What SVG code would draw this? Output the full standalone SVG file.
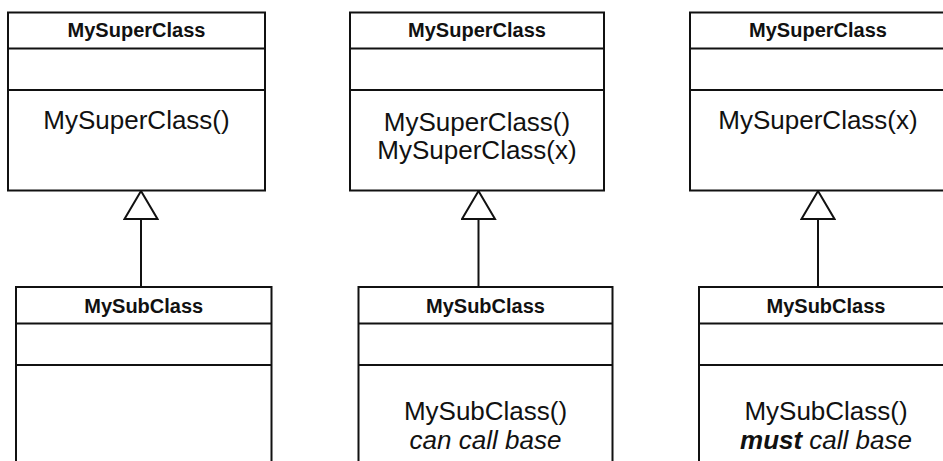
<svg xmlns="http://www.w3.org/2000/svg" width="943" height="461" viewBox="0 0 943 461">
<style>
.box{fill:#fff;stroke:#111;stroke-width:2}
.div{stroke:#111;stroke-width:2}
.hdr{font-family:"Liberation Sans",Arial,sans-serif;font-size:20px;font-weight:bold;fill:#111;text-anchor:middle}
.op{font-family:"Liberation Sans",Arial,sans-serif;font-size:26px;fill:#111;text-anchor:middle}
.conn{stroke:#111;stroke-width:2;fill:none}
</style>
<defs>
<marker id="gen" viewBox="0 0 31 36" refX="29.5" refY="18" markerWidth="31" markerHeight="36" markerUnits="userSpaceOnUse" orient="auto">
<path d="M1.5,1.5 L29.5,18 L1.5,34.5 Z" fill="#fff" stroke="#111" stroke-width="2" stroke-linejoin="miter"/>
</marker>
</defs>
<rect width="943" height="461" fill="#fff"/>

<g id="connectors">
<path class="conn" d="M141,287 L141,191" marker-end="url(#gen)"/>
<path class="conn" d="M478.5,287 L478.5,191" marker-end="url(#gen)"/>
<path class="conn" d="M818,287 L818,191" marker-end="url(#gen)"/>
</g>

<g id="super1">
<rect class="box" x="8" y="12.5" width="257" height="178"/>
<line class="div" x1="8" y1="48.5" x2="265" y2="48.5"/>
<line class="div" x1="8" y1="90" x2="265" y2="90"/>
<text class="hdr" x="136.5" y="37">MySuperClass</text>
<text class="op" x="136.5" y="129">MySuperClass()</text>
</g>

<g id="sub1">
<rect class="box" x="16" y="287" width="255.5" height="200"/>
<line class="div" x1="16" y1="323.5" x2="271.5" y2="323.5"/>
<line class="div" x1="16" y1="365" x2="271.5" y2="365"/>
<text class="hdr" x="143.75" y="313">MySubClass</text>
</g>

<g id="super2">
<rect class="box" x="350" y="12.5" width="254" height="178"/>
<line class="div" x1="350" y1="48.5" x2="604" y2="48.5"/>
<line class="div" x1="350" y1="90" x2="604" y2="90"/>
<text class="hdr" x="477" y="37">MySuperClass</text>
<text class="op" x="477" y="130.5">MySuperClass()</text>
<text class="op" x="477" y="159">MySuperClass(x)</text>
</g>

<g id="sub2">
<rect class="box" x="358.5" y="287" width="254" height="200"/>
<line class="div" x1="358.5" y1="323.5" x2="612.5" y2="323.5"/>
<line class="div" x1="358.5" y1="365" x2="612.5" y2="365"/>
<text class="hdr" x="485.5" y="313">MySubClass</text>
<text class="op" x="485.5" y="420">MySubClass()</text>
<text class="op" x="485.5" y="448.5" font-style="italic">can call base</text>
</g>

<g id="super3">
<rect class="box" x="690" y="12.5" width="254" height="178"/>
<line class="div" x1="690" y1="48.5" x2="944" y2="48.5"/>
<line class="div" x1="690" y1="90" x2="944" y2="90"/>
<text class="hdr" x="818" y="37">MySuperClass</text>
<text class="op" x="818" y="129">MySuperClass(x)</text>
</g>

<g id="sub3">
<rect class="box" x="699" y="287" width="254" height="200"/>
<line class="div" x1="699" y1="323.5" x2="953" y2="323.5"/>
<line class="div" x1="699" y1="365" x2="953" y2="365"/>
<text class="hdr" x="826" y="313">MySubClass</text>
<text class="op" x="826" y="420">MySubClass()</text>
<text class="op" x="826" y="448.5" font-style="italic"><tspan font-weight="bold">must</tspan> call base</text>
</g>
</svg>
